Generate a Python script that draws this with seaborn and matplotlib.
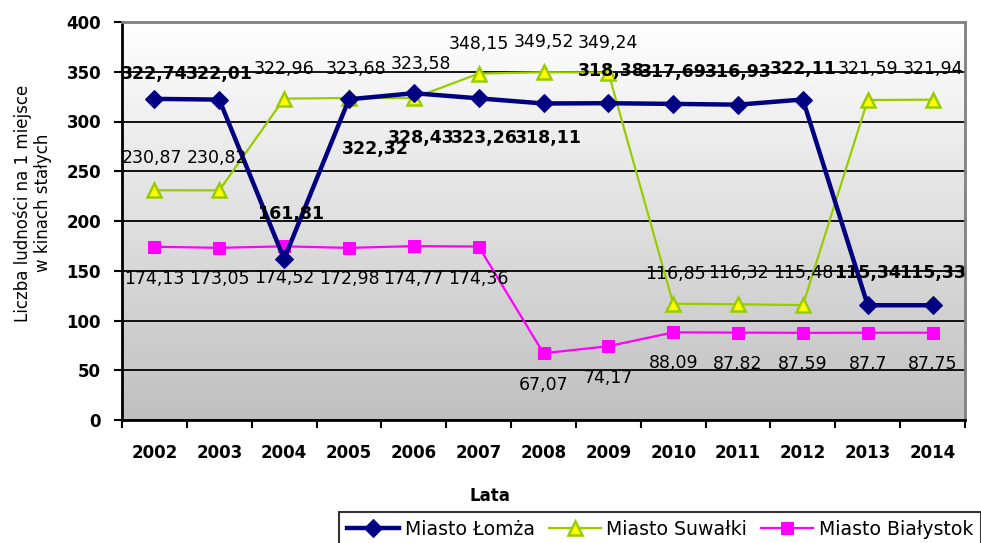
import numpy as np
import pandas as pd
import matplotlib.pyplot as plt
import seaborn as sns
from matplotlib.colors import LinearSegmentedColormap

years = ['2002', '2003', '2004', '2005', '2006', '2007', '2008',
         '2009', '2010', '2011', '2012', '2013', '2014']
lomza = [322.74, 322.01, 161.81, 322.32, 328.43, 323.26, 318.11,
         318.38, 317.69, 316.93, 322.11, 115.34, 115.33]
suwalki = [230.87, 230.82, 322.96, 323.68, 323.58, 348.15, 349.52,
           349.24, 116.85, 116.32, 115.48, 321.59, 321.94]
bialystok = [174.13, 173.05, 174.52, 172.98, 174.77, 174.36, 67.07,
             74.17, 88.09, 87.82, 87.59, 87.7, 87.75]

# where the data labels sit relative to their point (pixels)
lomza_dx = [0, 0, 7, 26, 7, 6, 5, 3, 0, 0, 0, 0, 0]
lomza_dy = [25, 26, 45, -50, -45, -40, -35, 32, 32, 33, 31, 32, 32]
suwalki_dx = [-2, -2, 0, 7, 7, 0, 0, 0, 2, 0, 0, 0, 0]
suwalki_dy = [32, 32, 30, 29, 34, 30, 30, 30, 30, 31, 32, 31, 31]
bialystok_dx = [0] * 13
bialystok_dy = [-32, -31, -32, -31, -33, -32, -32, -32, -31, -31, -31, -31, -31]

df = pd.DataFrame({'idx': np.arange(len(years)), 'Lata': years,
                   'Łomża': lomza, 'Suwałki': suwalki, 'Białystok': bialystok})

fig = plt.figure(figsize=(9.81, 5.43), dpi=100)
ax = fig.add_axes([122 / 981, 1 - 420 / 543, 843 / 981, 398 / 543])

# gradient background of the plot area
grad = LinearSegmentedColormap.from_list('bg', ['#c0c0c0', '#ffffff'])
ax.imshow(np.linspace(0, 1, 256).reshape(-1, 1), cmap=grad, origin='lower',
          extent=(-0.5, 12.5, 0, 400), aspect='auto', zorder=0)

sns.lineplot(data=df, x='idx', y='Łomża', ax=ax, color='#000080', linewidth=3.2,
             marker='D', markersize=9.5, markeredgecolor='#000080',
             label='Miasto Łomża', zorder=4)
sns.lineplot(data=df, x='idx', y='Suwałki', ax=ax, color='#99cc00', linewidth=1.6,
             marker='^', markersize=10, markerfacecolor='#ffff00',
             markeredgecolor='#99cc00', markeredgewidth=1.8,
             label='Miasto Suwałki', zorder=3)
sns.lineplot(data=df, x='idx', y='Białystok', ax=ax, color='#ff00ff', linewidth=1.6,
             marker='s', markersize=9, markeredgecolor='#ff00ff',
             label='Miasto Białystok', zorder=3)

def put_labels(vals, dxs, dys, weight):
    for i, (v, dx, dy) in enumerate(zip(vals, dxs, dys)):
        txt = ('%g' % v).replace('.', ',')
        ax.annotate(txt, (i, v), xytext=(dx, dy), textcoords='offset pixels',
                    ha='center', va='center', fontsize=12.5, fontweight=weight,
                    color='black', zorder=6)

put_labels(lomza, lomza_dx, lomza_dy, 'bold')
put_labels(suwalki, suwalki_dx, suwalki_dy, 'normal')
put_labels(bialystok, bialystok_dx, bialystok_dy, 'normal')

ax.set_xlim(-0.5, 12.5)
ax.set_ylim(0, 400)
ax.set_yticks(np.arange(0, 401, 50))
ax.set_xticks(np.arange(len(years)))
ax.set_xticklabels(years)
ax.set_xticks(np.arange(-0.5, 13, 1), minor=True)
ax.tick_params(axis='x', which='major', length=0, pad=17)
ax.tick_params(axis='x', which='minor', length=6, width=1.5, direction='out')
ax.tick_params(axis='y', length=6, width=1.5, direction='out', pad=9)
for lab in ax.get_xticklabels() + ax.get_yticklabels():
    lab.set_fontweight('bold')
    lab.set_fontsize(12)

ax.yaxis.grid(True, color='black', linewidth=1.3, zorder=1)
ax.set_axisbelow(True)
for side in ['left', 'bottom']:
    ax.spines[side].set_color('black')
    ax.spines[side].set_linewidth(2)
for side in ['top', 'right']:
    ax.spines[side].set_color('#808080')
    ax.spines[side].set_linewidth(2)

ax.set_xlabel('Lata', fontsize=12, fontweight='bold')
ax.xaxis.set_label_coords(0.437, -(487 - 420) / 398)
ax.set_ylabel('Liczba ludności na 1 miejsce\nw kinach stałych', fontsize=12,
              linespacing=1.15)
ax.yaxis.set_label_coords(-(122 - 33) / 843, 0.545)
ax.yaxis.label.set_va('center')

leg = ax.legend(loc='upper left', bbox_to_anchor=(339 / 981, 1 - 512 / 543),
                bbox_transform=fig.transFigure, ncol=3, fontsize=13.6,
                frameon=True, fancybox=False, edgecolor='black',
                handlelength=2.75, handletextpad=0.3, columnspacing=0.75,
                borderpad=0.42, borderaxespad=0)
leg.get_frame().set_linewidth(1.5)

plt.savefig('out.png', dpi=100)
